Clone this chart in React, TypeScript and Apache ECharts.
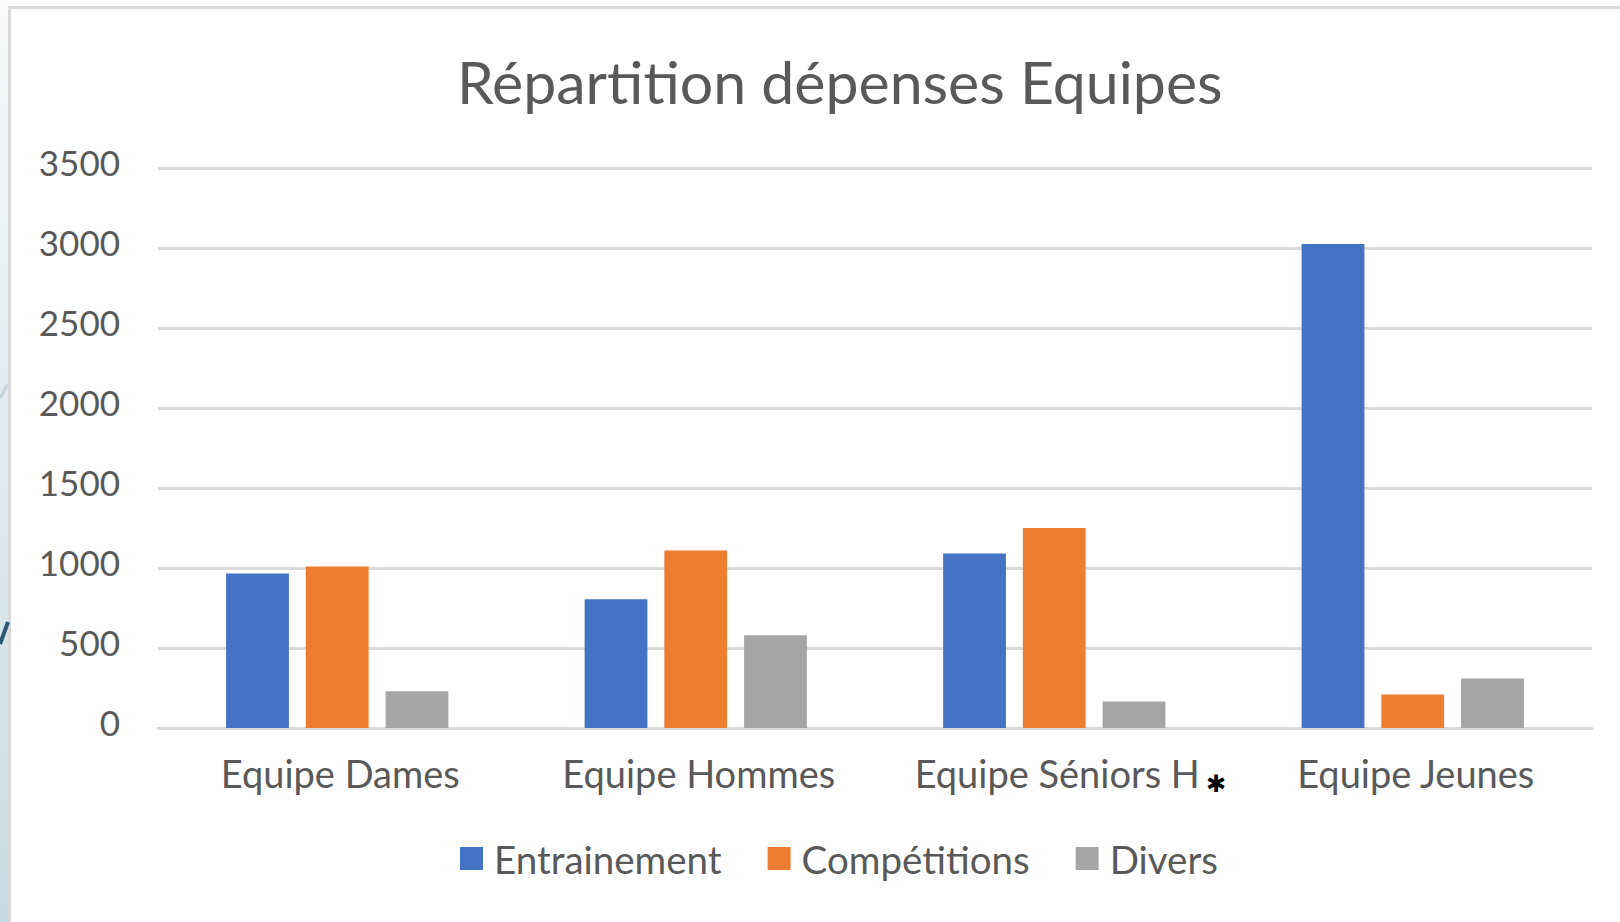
import React, { useEffect, useRef } from "react";
import * as echarts from "echarts";

const categories = ["Equipe Dames", "Equipe Hommes", "Equipe Séniors H", "Equipe Jeunes"];
const entrainement = [965, 805, 1090, 3025];
const competitions = [1010, 1110, 1250, 210];
const divers = [230, 580, 165, 310];
const seriesNames = ["Entrainement", "Compétitions", "Divers"];
const yTicks = { min: 0, max: 3500, interval: 500 };

const FONT = "Lato, 'Open Sans', sans-serif";
const TXT = "#595959";

export default function App() {
  const ref = useRef<HTMLDivElement>(null);
  useEffect(() => {
    if (!ref.current) return;
    const chart = echarts.init(ref.current, undefined, { renderer: "svg" });
    chart.setOption({
      animation: false,
      backgroundColor: "#ffffff",
      title: {
        text: "Répartition dépenses Equipes",
        left: 452,
        top: 47,
        textStyle: { fontFamily: FONT, fontSize: 59, fontWeight: "normal", color: TXT },
      },
      legend: {
        left: 455,
        top: 834,
        itemWidth: 23,
        itemHeight: 23,
        itemGap: 46,
        icon: "rect",
        data: seriesNames,
        textStyle: { fontFamily: FONT, fontSize: 38.5, color: TXT, padding: [0, 0, 0, 6] },
      },
      grid: { left: 158, right: 28, top: 168, bottom: 194, containLabel: false },
      xAxis: {
        type: "category",
        data: categories,
        axisLine: { show: true, lineStyle: { color: "#d9d9d9", width: 3 } },
        axisTick: { show: false },
        axisLabel: {
          interval: 0,
          margin: 26,
          fontFamily: FONT,
          fontSize: 38,
          color: TXT,
          padding: [0, 0, 0, 6],
        },
      },
      yAxis: {
        type: "value",
        min: yTicks.min,
        max: yTicks.max,
        interval: yTicks.interval,
        axisLine: { show: false },
        axisTick: { show: false },
        splitLine: { lineStyle: { color: "#d9d9d9", width: 3 } },
        axisLabel: {
          margin: 38,
          fontFamily: FONT,
          fontSize: 35,
          color: TXT,
          verticalAlign: "bottom",
          lineHeight: 13,
          formatter: (v: number) => String(v),
        },
      },
      graphic: {
        elements: [
          {
            type: "rect",
            z: -10,
            silent: true,
            shape: { x: 0, y: 0, width: 1620, height: 922 },
            style: {
              fill: new echarts.graphic.LinearGradient(0, 0, 0, 1, [
                { offset: 0, color: "#f7f9fa" },
                { offset: 1, color: "#c6dbe4" },
              ]),
            },
          },
          {
            type: "rect",
            z: -9,
            silent: true,
            shape: { x: 9.5, y: 7.5, width: 1640, height: 940 },
            style: { fill: "#ffffff", stroke: "#d9d9d9", lineWidth: 3 },
          },
          {
            type: "line",
            z: -9,
            silent: true,
            shape: { x1: 0, y1: 398, x2: 8, y2: 384 },
            style: { stroke: "#c9d5dc", lineWidth: 3 },
          },
          {
            type: "line",
            z: -9,
            silent: true,
            shape: { x1: 0, y1: 644, x2: 8, y2: 622 },
            style: { stroke: "#2d5670", lineWidth: 4 },
          },
          {
            type: "text",
            x: 1216,
            y: 784,
            style: {
              text: "✱",
              fontFamily: "DejaVu Sans",
              fontSize: 24,
              fill: "#000000",
              align: "center",
              verticalAlign: "middle",
            },
          },
        ],
      },
      color: ["#4472c4", "#ed7d31", "#a5a5a5"],
      series: [
        { name: seriesNames[0], type: "bar", data: entrainement, barGap: "27%", barCategoryGap: "38%" },
        { name: seriesNames[1], type: "bar", data: competitions, barGap: "27%", barCategoryGap: "38%" },
        { name: seriesNames[2], type: "bar", data: divers, barGap: "27%", barCategoryGap: "38%" },
      ],
    });
    return () => chart.dispose();
  }, []);
  return (
    <div
      ref={ref}
      style={{ position: "absolute", left: 0, top: 0, width: 1620, height: 922 }}
    />
  );
}
